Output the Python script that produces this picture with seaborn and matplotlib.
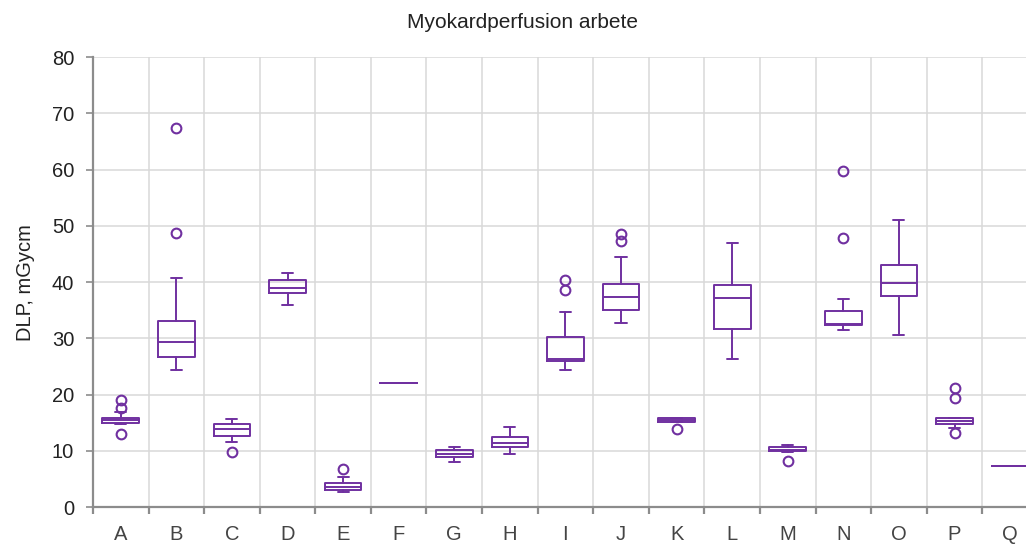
import matplotlib
matplotlib.use("Agg")
import matplotlib.pyplot as plt
import seaborn as sns
import numpy as np

# five-number summaries (DLP, mGycm)
categories = list("ABCDEFGHIJKLMNOPQ")
whislo = [14.8, 24.4, 11.6, 36.0, 2.7, 22.1, 8.0, 9.5, 24.4, 32.8, 15.2, 26.4, 9.8, 31.5, 30.6, 14.0, 7.3]
q1 = [15.0, 26.7, 12.7, 38.1, 3.1, 22.1, 8.9, 10.7, 26.0, 35.1, 15.2, 31.7, 9.9, 32.3, 37.6, 14.8, 7.3]
median = [15.5, 29.3, 13.9, 38.9, 3.6, 22.1, 9.4, 11.4, 26.4, 37.4, 15.5, 37.2, 10.2, 32.6, 39.9, 15.3, 7.3]
q3 = [15.9, 33.1, 14.7, 40.4, 4.2, 22.1, 10.1, 12.4, 30.3, 39.6, 15.8, 39.4, 10.6, 34.9, 43.1, 15.8, 7.3]
whishi = [16.9, 40.8, 15.6, 41.7, 5.3, 22.1, 10.7, 14.2, 34.6, 44.4, 15.8, 47.0, 11.1, 37.0, 51.0, 15.8, 7.3]
outliers = [
    [13.0, 17.6, 19.1], [48.8, 67.4], [9.7], [], [6.7], [], [], [],
    [38.6, 40.4], [47.3, 48.6], [13.8], [], [8.2], [47.8, 59.8], [],
    [13.1, 19.3, 21.2], [],
]

purple = "#7030a0"

sns.set_theme(style="whitegrid")
plt.rcParams["font.family"] = ["Liberation Sans", "DejaVu Sans"]

fig = plt.figure(figsize=(10.26, 5.44), dpi=100)
ax = fig.add_axes([0.0906, 0.068, 0.921, 0.827])

stats = []
for i, c in enumerate(categories):
    stats.append({
        "label": c, "whislo": whislo[i], "q1": q1[i], "med": median[i],
        "q3": q3[i], "whishi": whishi[i], "fliers": outliers[i],
    })

ax.bxp(
    stats,
    positions=range(len(categories)),
    widths=0.66,
    capwidths=0.2,
    showfliers=True,
    patch_artist=False,
    boxprops=dict(color=purple, linewidth=1.4),
    medianprops=dict(color=purple, linewidth=1.4),
    whiskerprops=dict(color=purple, linewidth=1.4),
    capprops=dict(color=purple, linewidth=1.4),
    flierprops=dict(marker="o", markerfacecolor="none", markeredgecolor=purple,
                    markeredgewidth=1.5, markersize=7),
)

ax.set_xlim(-0.5, len(categories) - 0.5)
ax.set_ylim(0, 80)
ax.set_yticks(range(0, 81, 10))
ax.set_xticks(range(len(categories)))
ax.set_xticklabels(categories)
ax.set_xticks(np.arange(-0.5, len(categories), 1.0), minor=True)

ax.grid(False)
ax.grid(True, axis="y", which="major", color="#d9d9d9", linewidth=1.1)
ax.grid(True, axis="x", which="minor", color="#d9d9d9", linewidth=1.1)
ax.set_axisbelow(True)

for s in ["top", "right"]:
    ax.spines[s].set_visible(False)
for s in ["left", "bottom"]:
    ax.spines[s].set_color("#8c8c8c")
    ax.spines[s].set_linewidth(1.6)

ax.tick_params(axis="y", which="major", left=True, length=5, width=1.2, color="#8c8c8c",
               labelsize=14.5, labelcolor="#222222", pad=8.5)
ax.tick_params(axis="x", which="major", bottom=False, labelsize=14.5, labelcolor="#444444", pad=7)
ax.tick_params(axis="x", which="minor", bottom=True, length=5, width=1.6, color="#8c8c8c")

ax.set_ylabel("DLP, mGycm", fontsize=14.5, color="#222222", labelpad=12)
ax.set_xlabel("")
fig.text(0.509, 0.958, "Myokardperfusion arbete", ha="center", va="center",
         fontsize=15, color="#222222")

fig.savefig("out.png", dpi=100)
